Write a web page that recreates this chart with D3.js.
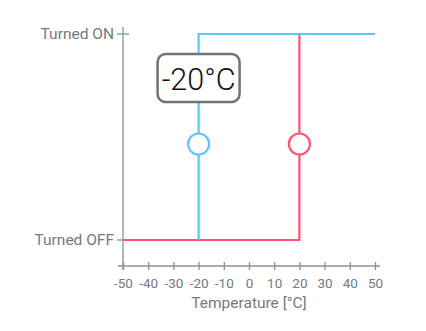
<!DOCTYPE html>
<html><head><meta charset="utf-8">
<script src="https://cdn.jsdelivr.net/npm/d3@7"></script>
<style>body{margin:0;background:#fff}svg{display:block;font-family:Roboto,sans-serif}</style>
</head><body><svg id="c" width="426" height="331"></svg>
<script>
const xTicks = [-50,-40,-30,-20,-10,0,10,20,30,40,50];
const states = ["Turned OFF","Turned ON"];
const heatingPath = [[-20,0],[-20,1],[50,1]];   // blue
const coolingPath = [[-50,0],[20,0],[20,1]];    // red
const markers = [{t:-20,c:"#5ac8fa"},{t:20,c:"#ff5470"}];
const labelText = "-20°C";
const labelTemp = -20;
const xTitle = "Temperature [°C]";

const svg = d3.select("#c");
const x = d3.scaleLinear().domain([-50,50]).range([123,375]);
const y = d3.scaleLinear().domain([0,1]).range([240,34]);
const axisColor = "#8a9096", textColor = "#737a80";

svg.append("line").attr("x1",x(-50)).attr("x2",x(-50)).attr("y1",27).attr("y2",270)
  .attr("stroke",axisColor).attr("stroke-width",1.3);
const xa = svg.append("g").attr("transform","translate(0,266)")
  .call(d3.axisBottom(x).tickValues(xTicks).tickFormat(d=>String(d)).tickSize(4).tickSizeOuter(0).tickPadding(8));
xa.select(".domain").remove();
xa.append("line").attr("x1",118).attr("x2",380).attr("stroke",axisColor).attr("stroke-width",1.3);
xa.selectAll(".tick line").attr("y1",-4).attr("y2",4).attr("stroke",axisColor).attr("stroke-width",1.3);
xa.selectAll(".tick text").attr("fill",textColor).attr("font-size",13.5).attr("font-family","Roboto,sans-serif");
svg.append("text").attr("x",x(0)).attr("y",308).attr("text-anchor","middle")
  .attr("fill",textColor).attr("font-size",15.5).text(xTitle);

states.forEach((s,i)=>{
  const yy = y(i);
  svg.append("line").attr("x1",117).attr("x2",i===1?129:123).attr("y1",yy).attr("y2",yy)
    .attr("stroke",axisColor).attr("stroke-width",1.3);
  svg.append("text").attr("x",114).attr("y",yy).attr("dy","0.35em").attr("text-anchor","end")
    .attr("fill",textColor).attr("font-size",15.5).text(s);
});

const line = d3.line().x(d=>x(d[0])).y(d=>y(d[1]));
svg.append("path").attr("d",line(coolingPath)).attr("fill","none").attr("stroke","#ff5470").attr("stroke-width",2.2);
svg.append("path").attr("d",line(heatingPath)).attr("fill","none").attr("stroke","#5ac8fa").attr("stroke-width",2.2);

markers.forEach(m=>{
  svg.append("circle").attr("cx",x(m.t)).attr("cy",144).attr("r",10.5)
    .attr("fill","#fff").attr("stroke",m.c).attr("stroke-width",2.2);
});

const lx = x(labelTemp);
svg.append("rect").attr("x",lx-41).attr("y",54).attr("width",82).attr("height",48).attr("rx",8)
  .attr("fill","#fff").attr("stroke","#6e7377").attr("stroke-width",2.5);
svg.append("text").attr("x",lx).attr("y",79).attr("dy","0.35em").attr("text-anchor","middle")
  .attr("font-size",30.5).attr("font-weight",300).attr("fill","#111").text(labelText);
</script></body></html>
